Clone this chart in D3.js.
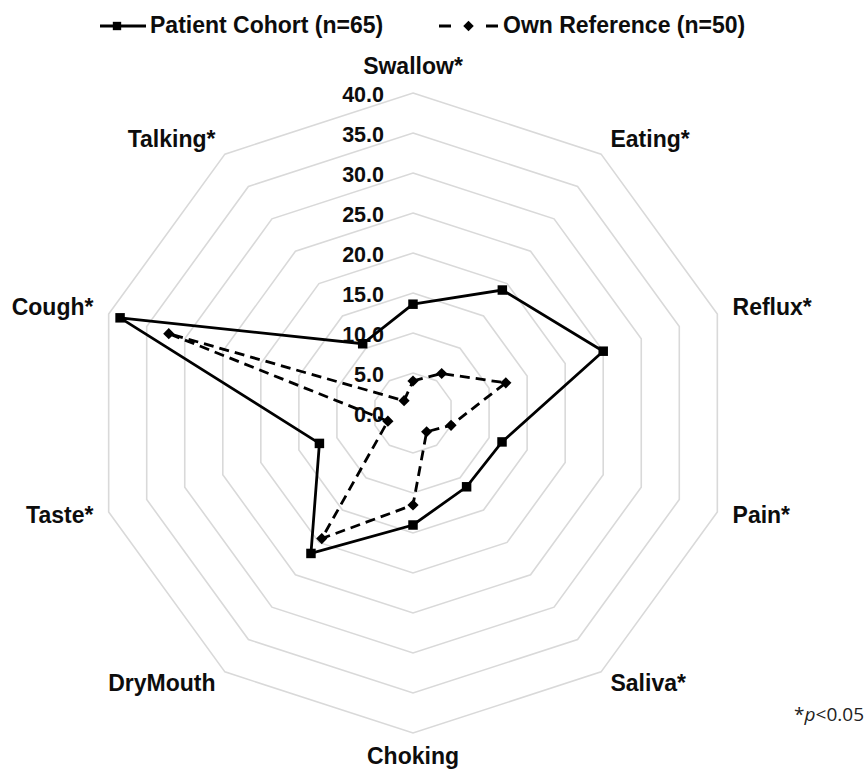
<!DOCTYPE html>
<html>
<head>
<meta charset="utf-8">
<script src="https://cdnjs.cloudflare.com/ajax/libs/d3/7.8.5/d3.min.js"></script>
<style>
  body { margin: 0; background: #fff; }
  svg { display: block; font-family: "Liberation Sans", Arial, sans-serif; }
</style>
</head>
<body>
<div id="chart"></div>
<script>
  'use strict';

  // Chart data
  const categories = ["Swallow*", "Eating*", "Reflux*", "Pain*", "Saliva*", "Choking", "DryMouth", "Taste*", "Cough*", "Talking*"];
  const patientValues = [13.6, 19.0, 25.0, 11.7, 11.4, 14.0, 21.7, 12.3, 38.5, 10.7];
  const referenceValues = [4.0, 6.1, 12.2, 5.0, 2.9, 11.5, 19.4, 3.3, 32.1, 1.9];
  const tickValues = [0, 5, 10, 15, 20, 25, 30, 35, 40];
  const seriesNames = ["Patient Cohort (n=65)", "Own Reference (n=50)"];

  //Dimensions
  let width = 866;
  let height = 771;
  let cx = 413, cy = 413;

  let svg = d3.select("#chart").append("svg")
    .attr("width", width)
    .attr("height", height);

  let r = d3.scaleLinear().domain([0, 40]).range([0, 320]);
  let angle = d3.scaleLinear().domain([0, categories.length]).range([0, 2 * Math.PI]);

  //Point on the chart for category i and value v
  function pt(i, v) {
    let a = angle(i);
    return [cx + r(v) * Math.sin(a), cy - r(v) * Math.cos(a)];
  }

  //Grid rings (no ring at 0)
  let ringLine = d3.line().curve(d3.curveLinearClosed);
  svg.append("g").selectAll("path")
    .data(tickValues.filter(function(t) { return t > 0; }))
    .enter()
    .append("path")
      .attr("d", function(t) { return ringLine(categories.map(function(c, i) { return pt(i, t); })); })
      .attr("fill", "none")
      .attr("stroke", "#d9d9d9")
      .attr("stroke-width", 1.6);

  //Tick labels along the top axis
  svg.append("g").selectAll("text")
    .data(tickValues)
    .enter()
    .append("text")
      .text(d3.format(".1f"))
      .attr("x", cx - 29)
      .attr("y", function(t) { return cy - r(t) + 3; })
      .attr("dominant-baseline", "middle")
      .attr("text-anchor", "end")
      .attr("font-size", "21.5px")
      .attr("font-weight", "bold")
      .attr("fill", "#0d0d0d");

  //Category labels
  svg.append("g").selectAll("text")
    .data(categories)
    .enter()
    .append("text")
      .text(function(d) { return d; })
      .each(function(d, i) {
        let a = angle(i);
        let s = Math.sin(a), c = Math.cos(a);
        let vertical = Math.abs(s) < 0.01;
        let p = pt(i, 40);
        let pad = vertical ? 25 : 16;
        d3.select(this)
          .attr("x", p[0] + pad * s)
          .attr("y", p[1] - pad * c)
          .attr("text-anchor", vertical ? "middle" : (s > 0 ? "start" : "end"));
      })
      .attr("dominant-baseline", "middle")
      .attr("font-size", "23px")
      .attr("font-weight", "bold")
      .attr("fill", "#0d0d0d");

  //Series
  let series = [
    { name: seriesNames[0], values: patientValues, dash: null, marker: d3.symbolSquare },
    { name: seriesNames[1], values: referenceValues, dash: "10,6", marker: d3.symbolDiamond2 }
  ];

  series.slice().reverse().forEach(function(s) {
    let pts = s.values.map(function(v, i) { return pt(i, v); });
    svg.append("path")
      .attr("d", ringLine(pts))
      .attr("fill", "none")
      .attr("stroke", "#000")
      .attr("stroke-width", 2.8)
      .attr("stroke-dasharray", s.dash);
    svg.append("g").selectAll("path")
      .data(pts)
      .enter()
      .append("path")
        .attr("d", d3.symbol().type(s.marker).size(s.dash ? 80 : 90))
        .attr("transform", function(p) { return "translate(" + p[0] + "," + p[1] + ")"; })
        .attr("fill", "#000");
  });

  //Legend
  let legendItems = [
    { x: 100, textX: 150, lineW: 46, markerX: 117, dash: null },
    { x: 439, textX: 503, lineW: 59, markerX: 468.5, dash: "12,35" }
  ];
  let legend = svg.append("g");
  series.forEach(function(s, i) {
    let li = legendItems[i];
    legend.append("line")
      .attr("x1", li.x).attr("x2", li.x + li.lineW)
      .attr("y1", 26).attr("y2", 26)
      .attr("stroke", "#000")
      .attr("stroke-width", 2.8)
      .attr("stroke-dasharray", li.dash);
    legend.append("path")
      .attr("d", d3.symbol().type(s.marker).size(70))
      .attr("transform", "translate(" + li.markerX + ",26)")
      .attr("fill", "#000");
    legend.append("text")
      .text(s.name)
      .attr("x", li.textX)
      .attr("y", 27)
      .attr("dominant-baseline", "middle")
      .attr("font-size", "23px")
      .attr("font-weight", "bold")
      .attr("fill", "#0d0d0d");
  });

  //Footnote
  let note = svg.append("text")
    .attr("x", 864)
    .attr("y", 721)
    .attr("text-anchor", "end")
    .attr("font-family", "'Open Sans', 'Noto Sans', sans-serif")
    .attr("font-size", "19px")
    .attr("fill", "#222");
  note.append("tspan").text("*");
  note.append("tspan").text("p").attr("font-style", "italic");
  note.append("tspan").text("<0.05");
</script>
</body>
</html>
